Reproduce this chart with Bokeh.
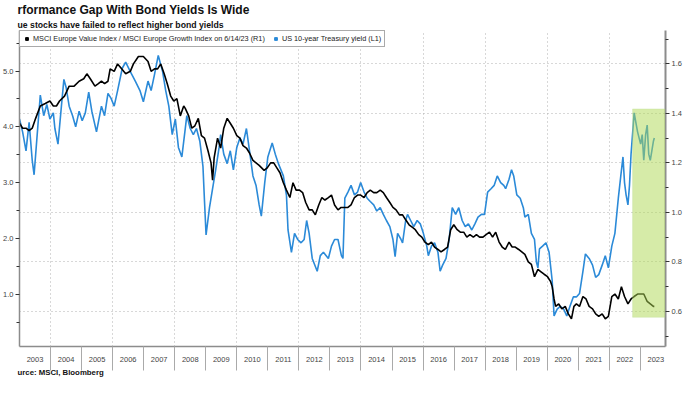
from bokeh.plotting import figure
from bokeh.models import (Range1d, LinearAxis, FixedTicker, NumeralTickFormatter, Title,
                          Legend, LegendItem, BoxAnnotation, Grid)
from bokeh.embed import file_html
from bokeh.resources import INLINE

# ---------------- data ----------------
YEARS = list(range(2003, 2024))
YEAR_LABELS = [str(y) for y in YEARS]

# US 10-year Treasury yield (L1), decimal year / percent
BLUE_T = [2003.00, 2003.10, 2003.21, 2003.31, 2003.41, 2003.47, 2003.57, 2003.67, 2003.78, 2003.88,
          2003.98, 2004.09, 2004.14, 2004.24, 2004.35, 2004.43, 2004.50, 2004.60, 2004.71, 2004.81,
          2004.92, 2005.02, 2005.12, 2005.23, 2005.33, 2005.48, 2005.64, 2005.74, 2005.85, 2005.95,
          2006.05, 2006.16, 2006.31, 2006.42, 2006.57, 2006.73, 2006.88, 2006.99, 2007.14, 2007.24,
          2007.35, 2007.47, 2007.61, 2007.71, 2007.81, 2007.92, 2008.02, 2008.12, 2008.23,
          2008.39, 2008.50, 2008.60, 2008.70, 2008.81, 2008.91, 2008.96, 2009.01, 2009.12, 2009.22,
          2009.32, 2009.43, 2009.48, 2009.58, 2009.69, 2009.79, 2009.89, 2010.00, 2010.10, 2010.20,
          2010.31, 2010.41, 2010.52, 2010.62, 2010.72, 2010.79, 2010.90, 2011.00, 2011.14, 2011.24,
          2011.34, 2011.50, 2011.60, 2011.65, 2011.76, 2011.86, 2011.96, 2012.07, 2012.17, 2012.25,
          2012.33, 2012.43, 2012.59, 2012.69, 2012.79, 2012.95, 2013.05, 2013.15, 2013.26, 2013.37,
          2013.42, 2013.48, 2013.58, 2013.68, 2013.79, 2013.89, 2013.99, 2014.10, 2014.20, 2014.30,
          2014.41, 2014.51, 2014.62, 2014.72, 2014.82, 2014.93, 2015.03, 2015.10, 2015.18, 2015.29,
          2015.34, 2015.44, 2015.50, 2015.60, 2015.70, 2015.81, 2015.91, 2016.01, 2016.12, 2016.17,
          2016.27, 2016.37, 2016.48, 2016.55, 2016.63, 2016.74, 2016.84, 2016.94, 2017.05, 2017.15,
          2017.26, 2017.36, 2017.46, 2017.57, 2017.67, 2017.77, 2017.88, 2017.98, 2018.08, 2018.19,
          2018.29, 2018.39, 2018.50, 2018.60, 2018.66, 2018.77, 2018.85, 2018.92, 2019.02, 2019.13,
          2019.23, 2019.28, 2019.39, 2019.49, 2019.59, 2019.65, 2019.70, 2019.75, 2019.85, 2019.96,
          2020.06, 2020.16, 2020.22, 2020.32, 2020.42, 2020.53, 2020.63, 2020.73, 2020.84, 2020.94,
          2021.04, 2021.15, 2021.23, 2021.35, 2021.46, 2021.56, 2021.66, 2021.77, 2021.87, 2021.97,
          2022.08, 2022.18, 2022.29, 2022.37, 2022.44, 2022.49, 2022.54, 2022.60, 2022.65, 2022.70,
          2022.80, 2022.91, 2023.01, 2023.06, 2023.11, 2023.17, 2023.22, 2023.27, 2023.32, 2023.37,
          2023.42, 2023.45]
BLUE_V = [4.14, 3.91, 3.57, 4.08, 3.40, 3.14, 3.86, 4.57, 4.20, 4.40,
          4.14, 4.25, 3.97, 3.69, 4.37, 4.85, 4.71, 4.37, 4.20, 4.00,
          4.28, 4.11, 4.25, 4.62, 4.28, 3.91, 4.37, 4.20, 4.60, 4.51,
          4.37, 4.65, 5.05, 5.16, 4.99, 4.82, 4.65, 4.45, 4.82, 4.65,
          4.94, 5.28, 4.99, 4.65, 4.37, 3.86, 4.14, 3.63, 3.46,
          4.20, 3.97, 3.86, 3.97, 3.74, 3.29, 2.66, 2.06, 2.55, 2.89,
          3.23, 3.63, 3.86, 3.51, 3.34, 3.57, 3.23, 3.63, 3.80, 3.69,
          3.97, 3.57, 3.12, 2.95, 2.60, 2.40, 3.00, 3.46, 3.71, 3.51,
          3.34, 3.12, 2.77, 2.15, 1.75, 2.09, 1.98, 1.92, 1.98, 2.32,
          2.09, 1.64, 1.41, 1.69, 1.75, 1.64, 1.86, 1.98, 1.98, 1.69,
          1.64, 2.72, 2.83, 2.95, 2.78, 2.83, 3.00, 2.83, 2.72, 2.66,
          2.60, 2.49, 2.55, 2.43, 2.32, 2.21, 1.98, 1.67, 2.09, 1.98,
          1.92, 2.32, 2.43, 2.32, 2.21, 2.32, 2.26, 2.09, 1.86, 1.69,
          1.86, 1.92, 1.75, 1.41, 1.52, 1.64, 1.98, 2.55, 2.43, 2.55,
          2.32, 2.21, 2.26, 2.15, 2.26, 2.38, 2.43, 2.43, 2.83, 2.89,
          2.95, 3.12, 3.00, 2.95, 2.89, 3.06, 3.23, 3.12, 2.78, 2.72,
          2.55, 2.38, 2.43, 2.09, 1.98, 1.58, 1.47, 1.81, 1.86, 1.92,
          1.75, 1.24, 0.61, 0.73, 0.78, 0.73, 0.61, 0.78, 0.95, 0.95,
          1.01, 1.41, 1.72, 1.64, 1.52, 1.30, 1.35, 1.52, 1.69, 1.47,
          1.86, 2.09, 2.72, 3.12, 3.46, 3.00, 2.78, 2.60, 2.95, 3.51,
          4.25, 3.91, 3.69, 3.86, 3.40, 3.86, 4.03, 3.51, 3.40, 3.57,
          3.74, 3.80]

# MSCI Europe Value / MSCI Europe Growth (R1)
BLACK_T = [2003.00, 2003.10, 2003.21, 2003.31, 2003.41, 2003.52, 2003.67, 2003.83, 2003.98, 2004.09,
           2004.19, 2004.29, 2004.45, 2004.60, 2004.76, 2004.92, 2005.07, 2005.17, 2005.28, 2005.43,
           2005.54, 2005.64, 2005.74, 2005.85, 2005.92, 2006.05, 2006.16, 2006.29, 2006.42, 2006.57,
           2006.67, 2006.83, 2006.99, 2007.14, 2007.24, 2007.35, 2007.45, 2007.55, 2007.66, 2007.76,
           2007.87, 2007.97, 2008.07, 2008.18, 2008.29, 2008.34, 2008.45, 2008.55, 2008.65, 2008.76,
           2008.86, 2008.96, 2009.07, 2009.17, 2009.22, 2009.27, 2009.38, 2009.48, 2009.58, 2009.69,
           2009.79, 2009.89, 2010.00, 2010.10, 2010.20, 2010.31, 2010.41, 2010.52, 2010.62, 2010.72,
           2010.88, 2010.98, 2011.09, 2011.19, 2011.29, 2011.39, 2011.50, 2011.60, 2011.71, 2011.81,
           2011.91, 2012.02, 2012.12, 2012.22, 2012.33, 2012.43, 2012.53, 2012.64, 2012.74, 2012.84,
           2012.95, 2013.05, 2013.15, 2013.26, 2013.36, 2013.48, 2013.58, 2013.68, 2013.79, 2013.89,
           2013.99, 2014.10, 2014.20, 2014.30, 2014.41, 2014.51, 2014.62, 2014.72, 2014.82, 2014.93,
           2015.03, 2015.13, 2015.24, 2015.34, 2015.44, 2015.55, 2015.65, 2015.75, 2015.86, 2015.96,
           2016.06, 2016.17, 2016.27, 2016.37, 2016.48, 2016.58, 2016.69, 2016.79, 2016.89, 2016.99,
           2017.10, 2017.20, 2017.31, 2017.41, 2017.51, 2017.62, 2017.72, 2017.82, 2017.93, 2018.03,
           2018.14, 2018.24, 2018.34, 2018.45, 2018.55, 2018.65, 2018.77, 2018.87, 2018.97, 2019.08,
           2019.18, 2019.28, 2019.39, 2019.49, 2019.59, 2019.70, 2019.80, 2019.90, 2020.01, 2020.11,
           2020.16, 2020.22, 2020.27, 2020.37, 2020.47, 2020.58, 2020.68, 2020.78, 2020.86, 2020.94,
           2021.04, 2021.15, 2021.25, 2021.35, 2021.46, 2021.56, 2021.66, 2021.77, 2021.87, 2021.97,
           2022.08, 2022.18, 2022.29, 2022.39, 2022.49, 2022.60, 2022.70, 2022.80, 2022.91, 2023.01,
           2023.11, 2023.22, 2023.32, 2023.42, 2023.45]
BLACK_V = [1.36, 1.34, 1.34, 1.33, 1.34, 1.38, 1.43, 1.44, 1.45, 1.43,
           1.43, 1.45, 1.47, 1.51, 1.51, 1.53, 1.54, 1.56, 1.54, 1.51,
           1.52, 1.53, 1.52, 1.53, 1.58, 1.57, 1.60, 1.58, 1.56, 1.57,
           1.60, 1.63, 1.63, 1.61, 1.57, 1.58, 1.58, 1.60, 1.56, 1.52,
           1.47, 1.45, 1.46, 1.39, 1.43, 1.42, 1.39, 1.34, 1.35, 1.38,
           1.31, 1.30, 1.25, 1.20, 1.13, 1.22, 1.30, 1.26, 1.34, 1.38,
           1.36, 1.34, 1.31, 1.30, 1.27, 1.26, 1.24, 1.21, 1.20, 1.19,
           1.17, 1.18, 1.20, 1.20, 1.18, 1.16, 1.12, 1.09, 1.06, 1.12,
           1.09, 1.09, 1.08, 1.04, 1.01, 1.01, 0.99, 1.03, 1.06, 1.05,
           1.06, 1.07, 1.03, 1.01, 1.02, 1.02, 1.02, 1.03, 1.06, 1.07,
           1.07, 1.06, 1.08, 1.09, 1.08, 1.08, 1.09, 1.08, 1.06, 1.04,
           1.02, 1.01, 0.99, 0.99, 0.97, 0.95, 0.94, 0.93, 0.91, 0.90,
           0.88, 0.87, 0.88, 0.86, 0.85, 0.84, 0.85, 0.86, 0.93, 0.95,
           0.93, 0.92, 0.92, 0.90, 0.91, 0.90, 0.91, 0.90, 0.90, 0.91,
           0.92, 0.90, 0.92, 0.88, 0.86, 0.85, 0.88, 0.86, 0.86, 0.85,
           0.84, 0.83, 0.80, 0.79, 0.74, 0.77, 0.76, 0.75, 0.74, 0.72,
           0.70, 0.65, 0.62, 0.63, 0.61, 0.62, 0.59, 0.57, 0.62, 0.63,
           0.62, 0.66, 0.65, 0.62, 0.61, 0.59, 0.58, 0.59, 0.57, 0.58,
           0.66, 0.67, 0.65, 0.70, 0.66, 0.63, 0.65, 0.66, 0.67, 0.67,
           0.67, 0.64, 0.63, 0.62, 0.62]

LEFT_TICKS = [1.0, 2.0, 3.0, 4.0, 5.0]
RIGHT_TICKS = [0.6, 0.8, 1.0, 1.2, 1.4, 1.6]
GRID_YEARS = [2004, 2006, 2008, 2010, 2012, 2014, 2016, 2018, 2020, 2022]

TITLE = "rformance Gap With Bond Yields Is Wide"
SUBTITLE = "ue stocks have failed to reflect higher bond yields"
SOURCE = "urce: MSCI, Bloomberg"
LABEL_BLACK = "MSCI Europe Value Index / MSCI Europe Growth Index on 6/14/23 (R1)"
LABEL_BLUE = "US 10-year Treasury yield (L1)"

FONT = "Liberation Sans"
AXIS_GREY = "#8c8c8c"
BLUE = "#2b8ad8"
NAN = float("nan")

# ---------------- figure ----------------
p = figure(width=684, height=378, output_backend="svg", toolbar_location=None,
           x_range=Range1d(2003.0, 2023.81), y_range=Range1d(0.061, 5.727),
           min_border_left=0, min_border_right=0, min_border_top=0, min_border_bottom=0,
           title=None)
p.extra_y_ranges = {"right": Range1d(0.458, 1.735)}
p.outline_line_color = None
p.background_fill_color = "white"
p.border_fill_color = "white"

# titles
p.add_layout(Title(text=SUBTITLE, text_font=FONT, text_font_size="8.7px", text_font_style="bold",
                   text_color="#111111", offset=-2, standoff=2), "above")
p.add_layout(Title(text=TITLE, text_font=FONT, text_font_size="12px", text_font_style="bold",
                   text_color="#111111", offset=-2, standoff=0), "above")

# grids
p.ygrid.visible = False
p.xgrid.ticker = FixedTicker(ticks=GRID_YEARS)
p.xgrid.grid_line_color = "#b0b0b0"
p.xgrid.grid_line_dash = "1 3"
p.xgrid.grid_line_width = 1
hgrid = Grid(dimension=1, ticker=FixedTicker(ticks=RIGHT_TICKS), y_range_name="right",
             grid_line_color="#b0b0b0", grid_line_dash="1 3", grid_line_width=1)
p.add_layout(hgrid)

# x axis
xa = p.xaxis[0]
xa.ticker = FixedTicker(ticks=[y + 0.5 for y in YEARS], minor_ticks=YEARS[1:])
xa.major_label_overrides = {y + 0.5: lab for y, lab in zip(YEARS, YEAR_LABELS)}
xa.major_tick_out = 0
xa.major_tick_in = 0
xa.minor_tick_out = 24
xa.minor_tick_in = 0
xa.minor_tick_line_color = "#aaaaaa"
xa.axis_line_color = AXIS_GREY
xa.axis_line_width = 1.5
xa.major_label_standoff = -14
xa.major_label_text_font = FONT
xa.major_label_text_font_size = "7.5px"
xa.major_label_text_color = "#444444"

# left axis
ya = p.yaxis[0]
ya.ticker = FixedTicker(ticks=LEFT_TICKS, minor_ticks=[0.5, 1.5, 2.5, 3.5, 4.5, 5.5])
ya.formatter = NumeralTickFormatter(format="0.0")
ya.axis_line_color = AXIS_GREY
ya.axis_line_width = 1.5
ya.major_tick_out = 4
ya.major_tick_in = 0
ya.minor_tick_out = 3
ya.minor_tick_in = 0
ya.major_tick_line_color = "#333333"
ya.minor_tick_line_color = "#333333"
ya.major_label_standoff = 2
ya.major_label_text_font = FONT
ya.major_label_text_font_size = "7.5px"
ya.major_label_text_color = "#444444"

# right axis
ra = LinearAxis(y_range_name="right",
                ticker=FixedTicker(ticks=RIGHT_TICKS, minor_ticks=[0.5, 0.7, 0.9, 1.1, 1.3, 1.5, 1.7]),
                formatter=NumeralTickFormatter(format="0.0"))
ra.axis_line_color = AXIS_GREY
ra.axis_line_width = 2
ra.major_tick_out = 4
ra.major_tick_in = 0
ra.minor_tick_out = 3
ra.minor_tick_in = 0
ra.major_tick_line_color = "#333333"
ra.minor_tick_line_color = "#333333"
ra.major_label_standoff = 2
ra.major_label_text_font = FONT
ra.major_label_text_font_size = "7.5px"
ra.major_label_text_color = "#444444"
p.add_layout(ra, "right")

# source
p.add_layout(Title(text=SOURCE, text_font=FONT, text_font_size="7.8px", text_font_style="bold",
                   text_color="#111111", offset=-2, standoff=3, text_line_height=1.0), "below")

# lines
p.line(BLUE_T, BLUE_V, line_color=BLUE, line_width=1.6)
p.line(BLACK_T, BLACK_V, line_color="black", line_width=1.6, y_range_name="right")

# highlight box (drawn on top of the lines)
box = BoxAnnotation(left=2022.75, right=2023.79, bottom=0.576, top=1.418, y_range_name="right",
                    fill_color="#add751", fill_alpha=0.5, line_color="#b5d98a", line_width=1,
                    level="overlay")
p.add_layout(box)

# legend (square swatches; the swatch renderers hold no visible point)
sw_black = p.scatter(x=[NAN], y=[NAN], marker="square", size=7, color="black", y_range_name="right")
sw_blue = p.scatter(x=[NAN], y=[NAN], marker="square", size=7, color=BLUE)
legend = Legend(items=[LegendItem(label=LABEL_BLACK, renderers=[sw_black]),
                       LegendItem(label=LABEL_BLUE, renderers=[sw_blue])],
                location="top_left", orientation="horizontal", margin=0, padding=3,
                spacing=7, label_standoff=3, glyph_width=7, glyph_height=7,
                label_text_font=FONT, label_text_font_size="7.3px", label_text_color="#222222",
                label_height=7, border_line_color="#555555", border_line_width=1,
                background_fill_color="white", background_fill_alpha=1)
p.add_layout(legend)

open("out.html", "w").write(file_html(p, INLINE))
